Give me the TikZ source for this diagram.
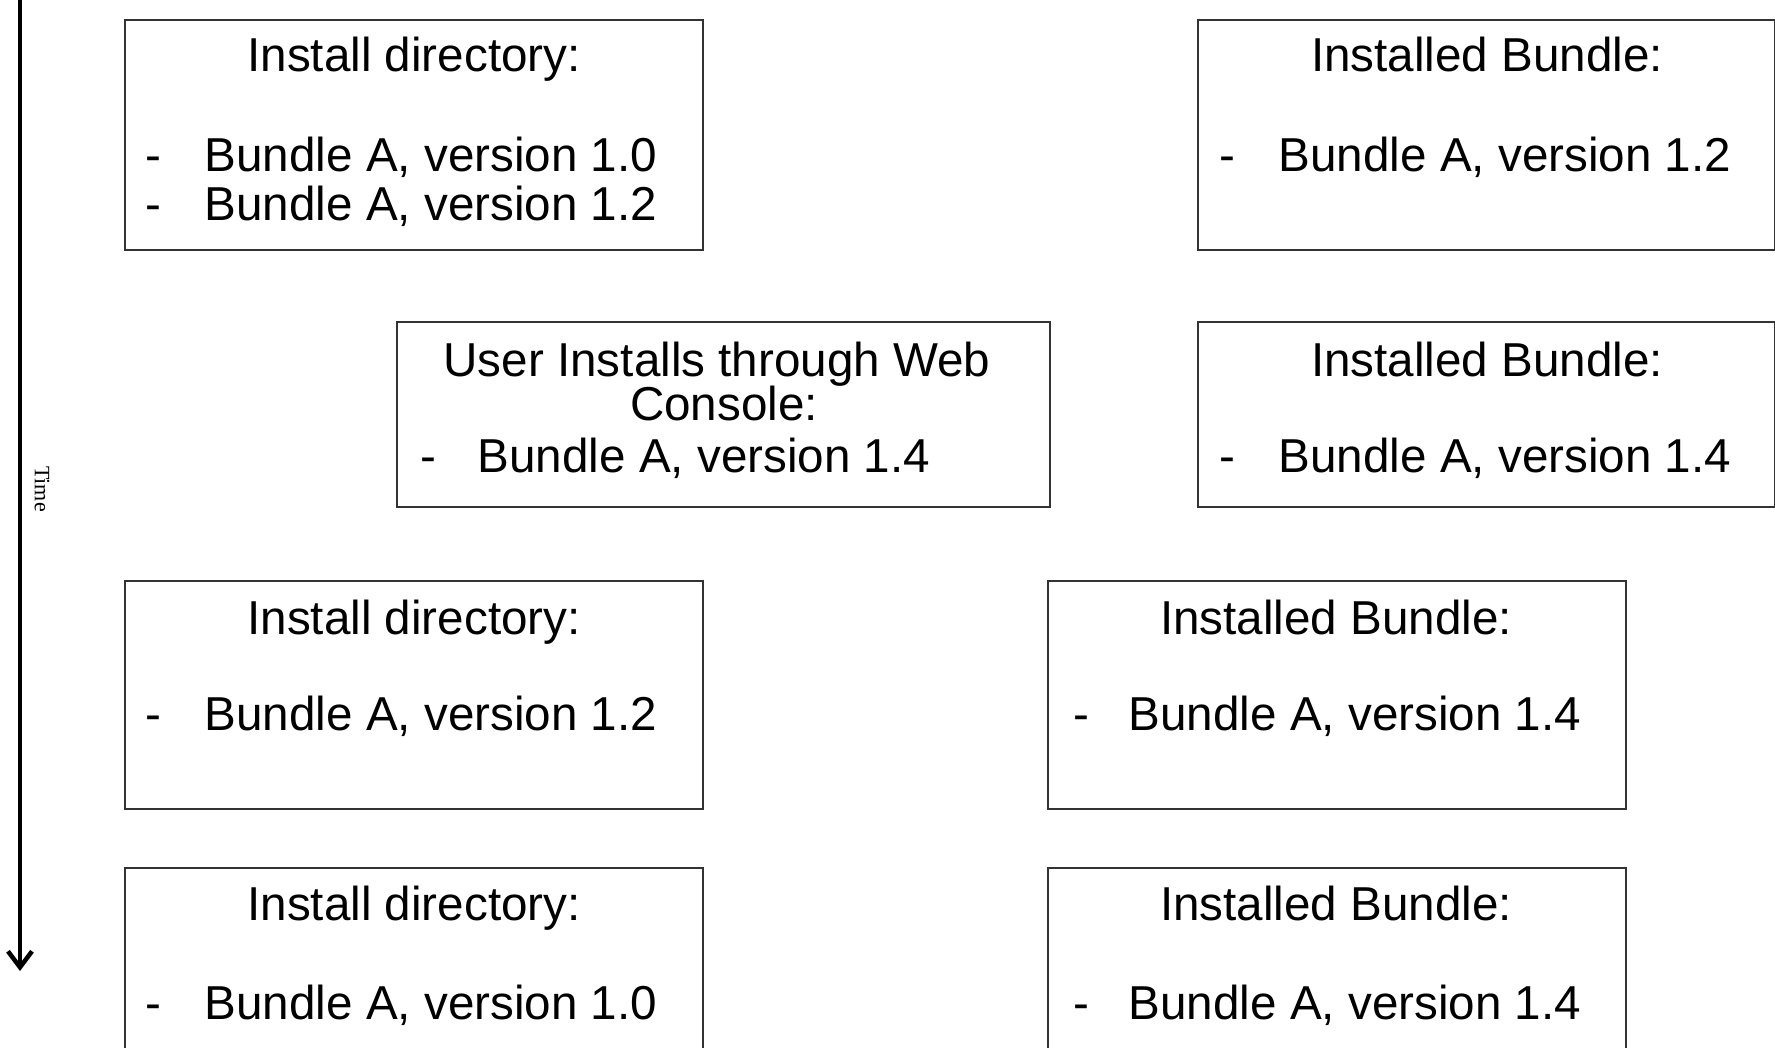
\documentclass[tikz,border=0pt]{standalone}
\usepackage{fontspec}
\setmainfont{Liberation Sans}
\newfontfamily\timesfont{Liberation Serif}
\usetikzlibrary{arrows.meta}
\begin{document}
\begin{tikzpicture}[x=1pt,y=-1pt,
  box/.style={draw=black!80, line width=2pt, inner sep=0pt, anchor=north west, rectangle},
  txt/.style={font=\fontsize{47.6}{52}\selectfont, inner sep=0pt, anchor=base},
  line/.style={txt, anchor=base west},
  timeline/.style={line width=4.5pt, -{Straight Barb[length=16pt,width=24pt]}}
]
\clip (0,0) rectangle (1775,1047);
\fill[white] (0,0) rectangle (1775,1047);

% time arrow
\coordinate (t0) at (20,0);
\coordinate (t1) at (20,971);
\draw[timeline] (t0) -- (t1);
\node[font=\timesfont\fontsize{22}{24}\selectfont, rotate=-90, inner sep=0pt] (time) at (42,489) {Time};

% row 1
\node[box, minimum width=578pt, minimum height=230pt] (b1) at (124,19) {};
\node[txt] (b1t) at (414,71) {Install directory:};
\node[txt] (b1d1) at (153,171) {-};
\node[line] (b1l1) at (204.5,171) {Bundle A, version 1.0};
\node[txt] (b1d2) at (153,220) {-};
\node[line] (b1l2) at (204.5,220) {Bundle A, version 1.2};

\node[box, minimum width=577pt, minimum height=230pt] (b2) at (1197,19) {};
\node[txt] (b2t) at (1487,71) {Installed Bundle:};
\node[txt] (b2d1) at (1227.5,171) {-};
\node[line] (b2l1) at (1278.5,171) {Bundle A, version 1.2};

% row 2
\node[box, minimum width=653pt, minimum height=185pt] (b3) at (396,321) {};
\node[txt] (b3t1) at (717,376) {User Installs through Web};
\node[txt] (b3t2) at (724,420) {Console:};
\node[txt] (b3d1) at (428,472) {-};
\node[line] (b3l1) at (477.5,472) {Bundle A, version 1.4};

\node[box, minimum width=577pt, minimum height=185pt] (b4) at (1197,321) {};
\node[txt] (b4t) at (1487,376) {Installed Bundle:};
\node[txt] (b4d1) at (1227.5,472) {-};
\node[line] (b4l1) at (1278.5,472) {Bundle A, version 1.4};

% row 3
\node[box, minimum width=578pt, minimum height=228pt] (b5) at (124,580) {};
\node[txt] (b5t) at (414,634) {Install directory:};
\node[txt] (b5d1) at (153,730) {-};
\node[line] (b5l1) at (204.5,730) {Bundle A, version 1.2};

\node[box, minimum width=578pt, minimum height=228pt] (b6) at (1047,580) {};
\node[txt] (b6t) at (1336,634) {Installed Bundle:};
\node[txt] (b6d1) at (1081.5,730) {-};
\node[line] (b6l1) at (1128.5,730) {Bundle A, version 1.4};

% row 4
\node[box, minimum width=578pt, minimum height=229pt] (b7) at (124,867) {};
\node[txt] (b7t) at (414,920) {Install directory:};
\node[txt] (b7d1) at (153,1019) {-};
\node[line] (b7l1) at (204.5,1019) {Bundle A, version 1.0};

\node[box, minimum width=578pt, minimum height=229pt] (b8) at (1047,867) {};
\node[txt] (b8t) at (1336,920) {Installed Bundle:};
\node[txt] (b8d1) at (1081.5,1019) {-};
\node[line] (b8l1) at (1128.5,1019) {Bundle A, version 1.4};
\end{tikzpicture}
\end{document}
